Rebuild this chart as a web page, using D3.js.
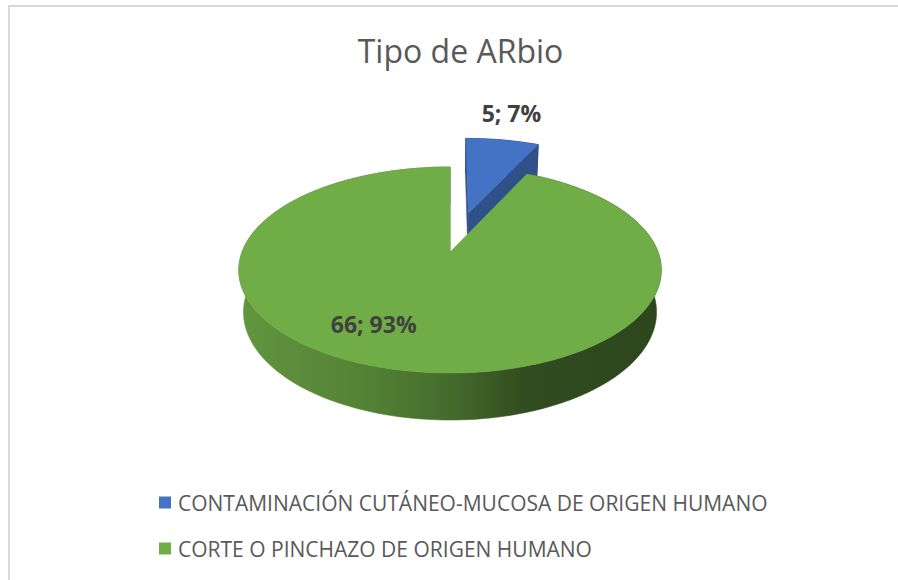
<!DOCTYPE html>
<html><head><meta charset="utf-8">
<script src="https://cdn.jsdelivr.net/npm/d3@7"></script>
<style>html,body{margin:0;padding:0;background:#fff;} svg{display:block;}</style>
</head><body>
<script>
// ---- data ----
const title = "Tipo de ARbio";
const categories = ["CONTAMINACIÓN CUTÁNEO-MUCOSA DE ORIGEN HUMANO", "CORTE O PINCHAZO DE ORIGEN HUMANO"];
const values = [5, 66];
const colors = ["#4472c4", "#70ad47"];
const explode = [0.43, 0];

// ---- layout / projection ----
const W = 898, H = 580;
const cx = 450, cy = 252, S = 208;
const phi = 28.7 * Math.PI / 180, D = 5.02, h = 0.233;
const cosP = Math.cos(phi), sinP = Math.sin(phi);
function proj(x, y, z) {
  const u = y * cosP + z * sinP;
  const d = z * cosP - y * sinP;
  const s = D / (D + d);
  return [cx + S * x * s, cy - S * u * s];
}

const svg = d3.select("body").append("svg").attr("width", W).attr("height", H);
const defs = svg.append("defs");

// frame
svg.append("rect").attr("x", 9).attr("y", 6).attr("width", 920).attr("height", 620)
  .attr("fill", "none").attr("stroke", "#d9d9d9").attr("stroke-width", 2);

// title
svg.append("text").attr("x", 460.5).attr("y", 63).attr("text-anchor", "middle")
  .attr("font-family", "'Open Sans', sans-serif").attr("font-size", 32)
  .attr("fill", "#595959").text(title);

const total = d3.sum(values);
const arcs = d3.pie().sort(null).value(d => d)(values);

function shade(c, k) { return d3.color(c).darker(k).formatHex(); }

// side gradients
colors.forEach((c, i) => {
  const g = defs.append("linearGradient").attr("id", "side" + i)
    .attr("gradientUnits", "userSpaceOnUse")
    .attr("x1", cx - S * 1.02).attr("x2", cx + S * 1.02).attr("y1", 0).attr("y2", 0);
  [[0, 0.4], [0.3, 0.8], [0.5, 1.35], [0.68, 2.3], [1, 2.55]].forEach(([o, k]) =>
    g.append("stop").attr("offset", o).attr("stop-color", shade(c, k)));
});

const line = d3.line();
function rim(a0, a1, y, ox, oz, r = 1) {
  const n = Math.max(8, Math.ceil((a1 - a0) / 0.02));
  const pts = [];
  for (let j = 0; j <= n; j++) {
    const a = a0 + (a1 - a0) * j / n;
    pts.push(proj(ox + r * Math.sin(a), y, oz + r * Math.cos(a)));
  }
  return pts;
}
function area(p) {
  let s = 0;
  for (let i = 0; i < p.length; i++) {
    const a = p[i], b = p[(i + 1) % p.length];
    s += a[0] * b[1] - b[0] * a[1];
  }
  return s;
}

const slices = arcs.map((a, i) => {
  const mid = (a.startAngle + a.endAngle) / 2;
  return { i, a0: a.startAngle, a1: a.endAngle, mid,
    ox: explode[i] * Math.sin(mid), oz: explode[i] * Math.cos(mid) };
});
const order = slices.slice().sort((p, q) => (q.oz + 0.5 * Math.cos(q.mid)) - (p.oz + 0.5 * Math.cos(p.mid)));

const gPie = svg.append("g");
order.forEach(sl => {
  const c = colors[sl.i];
  const g = gPie.append("g");
  // outer wall
  const top = rim(sl.a0, sl.a1, 0, sl.ox, sl.oz);
  const bot = rim(sl.a0, sl.a1, -h, sl.ox, sl.oz).reverse();
  g.append("path").attr("d", line(top.concat(bot)) + "Z")
    .attr("fill", `url(#side${sl.i})`).attr("stroke", `url(#side${sl.i})`).attr("stroke-width", 0.6);
  // radial faces
  [[sl.a1, 1], [sl.a0, -1]].forEach(([a, sign]) => {
    const q = [proj(sl.ox, 0, sl.oz),
      proj(sl.ox + Math.sin(a), 0, sl.oz + Math.cos(a)),
      proj(sl.ox + Math.sin(a), -h, sl.oz + Math.cos(a)),
      proj(sl.ox, -h, sl.oz)];
    if (area(q) * sign > 0) {
      g.append("path").attr("d", line(q) + "Z")
        .attr("fill", shade(c, 1.0)).attr("stroke", shade(c, 1.0)).attr("stroke-width", 0.5);
    }
  });
  // top face
  const tp = [proj(sl.ox, 0, sl.oz)].concat(top);
  g.append("path").attr("d", line(tp) + "Z")
    .attr("fill", c).attr("stroke", c).attr("stroke-width", 0.5);
});

// data labels
slices.forEach(sl => {
  const pct = Math.round(values[sl.i] / total * 100);
  const txt = values[sl.i] + "; " + pct + "%";
  let x, y;
  if (explode[sl.i] > 0) {
    const p = proj(sl.ox + Math.sin(sl.mid), 0, sl.oz + Math.cos(sl.mid));
    x = p[0] + 9; y = p[1] - 18;
  } else {
    const p = proj(sl.ox + 0.7 * Math.sin(sl.mid), 0, sl.oz + 0.7 * Math.cos(sl.mid));
    x = p[0] - 40; y = p[1] + 4;
  }
  svg.append("text").attr("x", x).attr("y", y).attr("text-anchor", "middle")
    .attr("font-family", "'Open Sans', sans-serif").attr("font-weight", "bold")
    .attr("font-size", 23).attr("fill", "#404040").text(txt);
});

// legend
const leg = svg.append("g");
categories.forEach((cat, i) => {
  const yb = 510.5 + i * 46;
  leg.append("rect").attr("x", 159).attr("y", yb - 14).attr("width", 12).attr("height", 12)
    .attr("fill", colors[i]);
  leg.append("text").attr("x", 178).attr("y", yb)
    .attr("font-family", "'Open Sans', sans-serif").attr("font-size", 21)
    .attr("fill", "#595959").text(cat);
});
</script>
</body></html>
